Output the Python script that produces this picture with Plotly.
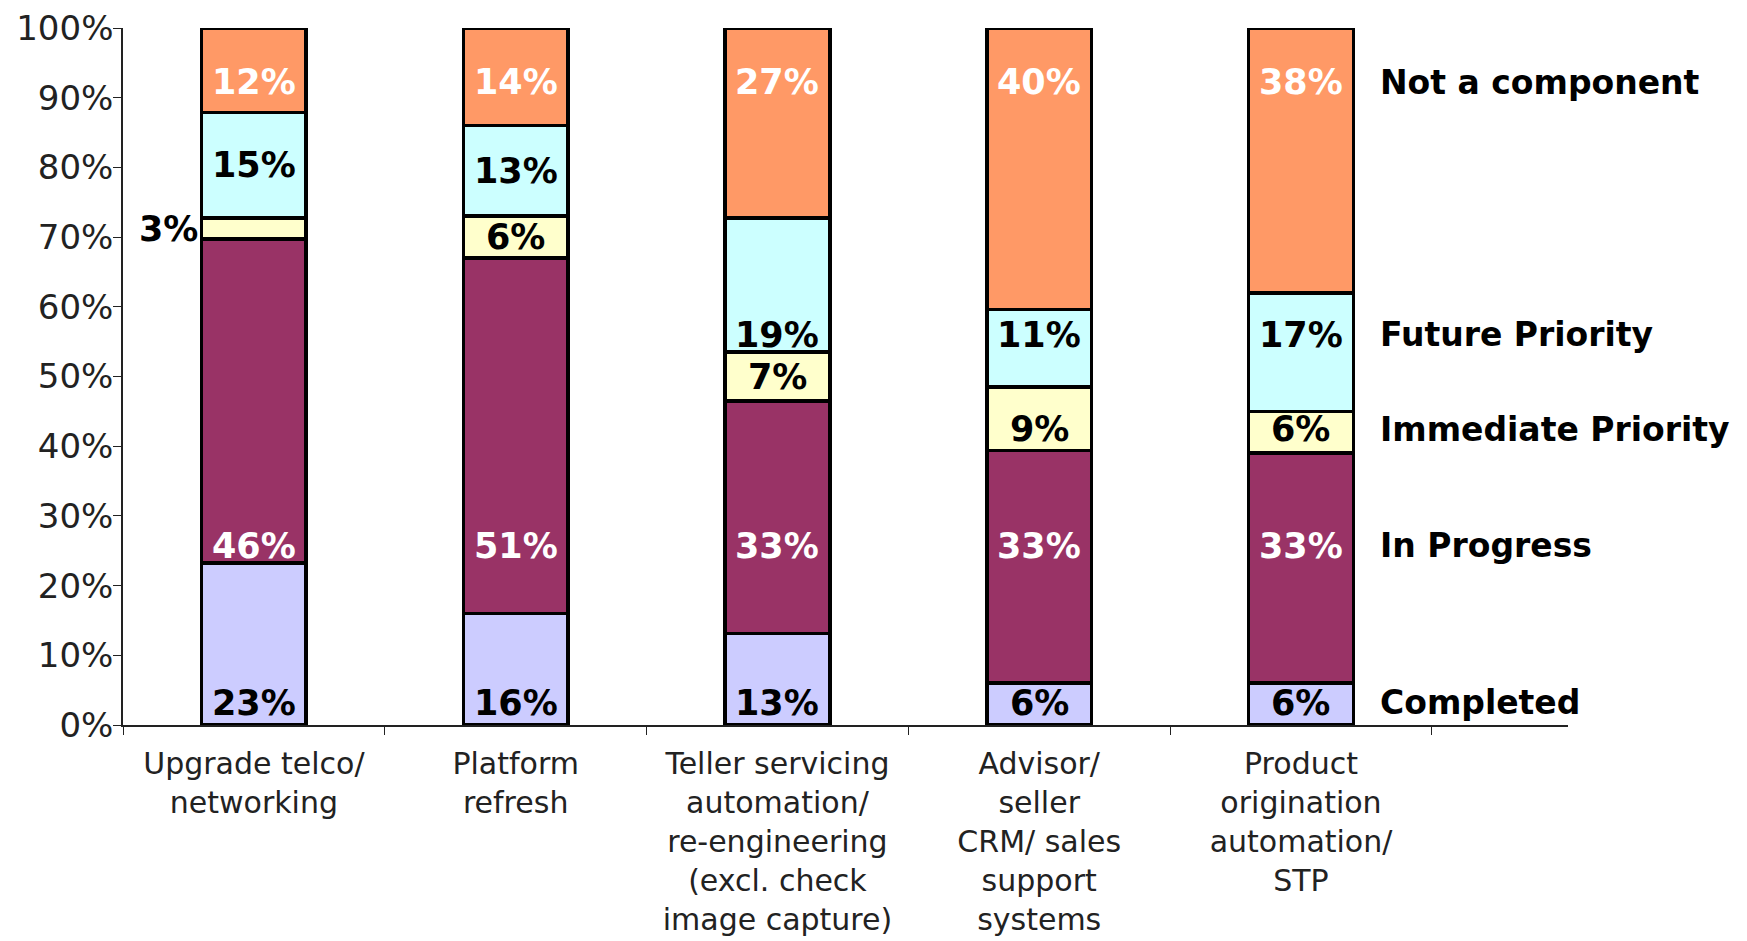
import plotly.graph_objects as go

categories = [
    "Upgrade telco/<br>networking",
    "Platform<br>refresh",
    "Teller servicing<br>automation/<br>re-engineering<br>(excl. check<br>image capture)",
    "Advisor/<br>seller<br>CRM/ sales<br>support<br>systems",
    "Product<br>origination<br>automation/<br>STP",
]
series_names = ["Completed", "In Progress", "Immediate Priority", "Future Priority", "Not a component"]
completed = [23, 16, 13, 6, 6]
in_progress = [46, 51, 33, 33, 33]
immediate_priority = [3, 6, 7, 9, 6]
future_priority = [15, 13, 19, 11, 17]
not_a_component = [12, 14, 27, 40, 38]
y_ticks = [0, 10, 20, 30, 40, 50, 60, 70, 80, 90, 100]

series_values = [completed, in_progress, immediate_priority, future_priority, not_a_component]
colors = ["#CCCCFF", "#993366", "#FFFFCC", "#CCFFFF", "#FF9966"]
label_colors = ["black", "white", "black", "black", "white"]
# vertical level (in % of axis) of the right-hand series labels
row_level = [3.2, 25.7, 42.4, 56.0, 92.2]

FONT = "Verdana, DejaVu Sans, sans-serif"
BAR_W = 0.40

fig = go.Figure()
for name, vals, col in zip(series_names, series_values, colors):
    fig.add_trace(go.Bar(
        x=categories, y=vals, name=name, width=BAR_W,
        marker=dict(color=col, line=dict(color="black", width=3.5)),
        cliponaxis=False, hoverinfo="skip",
    ))

annotations = []
n = len(categories)
for i in range(n):
    total = sum(s[i] for s in series_values)
    base = 0.0
    for k, vals in enumerate(series_values):
        h = vals[i] / total * 100
        lo, hi = base, base + h
        base = hi
        level = row_level[k]
        if lo + 1 <= level <= hi - 1:
            y = level
        else:
            y = (lo + hi) / 2
        if h < 4.5:
            annotations.append(dict(
                x=i - BAR_W / 2 - 0.005, y=y, xref="x", yref="y", text=f"{vals[i]}%",
                showarrow=False, xanchor="right", yanchor="middle",
                font=dict(family=FONT, size=35, color="black", weight="bold")))
        else:
            annotations.append(dict(
                x=i, y=y, xref="x", yref="y", text=f"{vals[i]}%",
                showarrow=False, xanchor="center", yanchor="middle",
                font=dict(family=FONT, size=35, color=label_colors[k], weight="bold")))

for k, name in enumerate(series_names):
    annotations.append(dict(
        x=n - 1 + BAR_W / 2 + 0.095, y=row_level[k], xref="x", yref="y", text=name,
        showarrow=False, xanchor="left", yanchor="middle",
        font=dict(family=FONT, size=33, color="black", weight="bold")))

fig.update_layout(
    barmode="stack", barnorm="percent",
    width=1739, height=933,
    margin=dict(l=115, r=179, t=20, b=216, pad=0),
    paper_bgcolor="white", plot_bgcolor="white",
    showlegend=False,
    annotations=annotations,
    font=dict(family=FONT, size=32, color="#222222"),
)
fig.update_xaxes(
    type="category", range=[-0.5, 5.02], automargin=False,
    showline=True, linecolor="#222222", linewidth=1.5,
    ticks="outside", tickson="boundaries", ticklen=8, tickcolor="#222222",
    ticklabelstandoff=11, ticklabeloverflow="allow",
    showgrid=False, tickfont=dict(family=FONT, size=30, color="#222222"),
)
fig.update_yaxes(
    range=[0, 100], tickvals=y_ticks, ticktext=[f"{v}%" for v in y_ticks],
    automargin=False,
    showline=True, linecolor="#222222", linewidth=1.5,
    ticks="outside", ticklen=8, tickcolor="#222222",
    ticklabelstandoff=-7, ticklabeloverflow="allow",
    showgrid=False, zeroline=False,
    tickfont=dict(family=FONT, size=34, color="#222222"),
)

fig.write_html("out.html")
